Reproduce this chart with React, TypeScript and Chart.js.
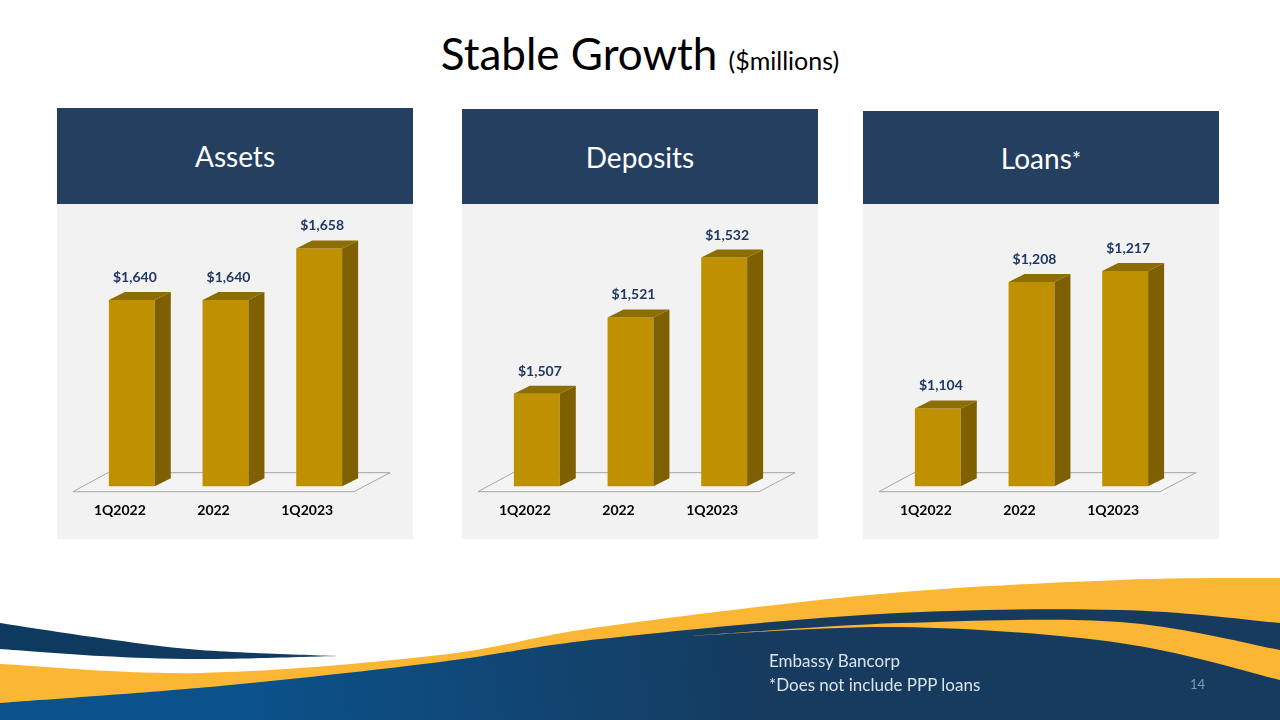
import React, { useEffect, useRef } from "react";
import { Chart, registerables } from "chart.js";

Chart.register(...registerables);

// ---- data -------------------------------------------------------------
const categories = ["1Q2022", "2022", "1Q2023"];
const assetValues = [1640, 1640, 1658];
const depositValues = [1507, 1521, 1532];
const loanValues = [1104, 1208, 1217];

// value window shown on each (hidden) value axis
const assetRange = [1575, 1670];
const depositRange = [1490, 1540];
const loanRange = [1040, 1264];

// ---- styling ------------------------------------------------------------
const FONT = "Lato, 'Open Sans', 'DejaVu Sans', sans-serif";
const FRONT = "#BF9000";
const SIDE = "#7F6000";
const TOP = "#8D6D00";
const LABEL = "#1F3864";
const HEADER = "#243F60";
const PANEL = "#F2F2F2";
const DX = 16;
const DY = -8;

// Draws the floor, the bar depth faces and the value labels
const bar3dPlugin = {
  id: "bar3d",
  beforeDatasetsDraw(chart: any) {
    const { ctx, chartArea } = chart;
    const b = chartArea.bottom;
    ctx.save();
    ctx.beginPath();
    ctx.moveTo(chartArea.left - 12, b + 5.5);
    ctx.lineTo(chartArea.right - 12, b + 5.5);
    ctx.lineTo(chartArea.right + 24, b - 13.5);
    ctx.lineTo(chartArea.left + 23, b - 13.5);
    ctx.closePath();
    ctx.fillStyle = "#F4F4F4";
    ctx.fill();
    ctx.strokeStyle = "#A6A6A6";
    ctx.lineWidth = 1;
    ctx.stroke();
    ctx.restore();
  },
  afterDatasetsDraw(chart: any) {
    const { ctx, chartArea } = chart;
    const meta = chart.getDatasetMeta(0);
    const values = chart.data.datasets[0].data as number[];
    ctx.save();
    meta.data.forEach((bar: any, i: number) => {
      const p = bar.getProps(["x", "y", "base", "width"], true);
      const x = p.x;
      const y = p.y;
      const width = p.width;
      const base = Math.min(p.base, chartArea.bottom);
      const l = x - width / 2;
      const r = x + width / 2;
      // right side face
      ctx.beginPath();
      ctx.moveTo(r, y);
      ctx.lineTo(r + DX, y + DY);
      ctx.lineTo(r + DX, base + DY);
      ctx.lineTo(r, base);
      ctx.closePath();
      ctx.fillStyle = SIDE;
      ctx.fill();
      // top face
      ctx.beginPath();
      ctx.moveTo(l, y);
      ctx.lineTo(r, y);
      ctx.lineTo(r + DX, y + DY);
      ctx.lineTo(l + DX, y + DY);
      ctx.closePath();
      ctx.fillStyle = TOP;
      ctx.fill();
      // value label
      ctx.font = `bold 14px ${FONT}`;
      ctx.fillStyle = LABEL;
      ctx.textAlign = "center";
      ctx.textBaseline = "alphabetic";
      ctx.fillText("$" + values[i].toLocaleString("en-US"), x + 3, y + DY - 10);
    });
    ctx.restore();
  },
};

const PANEL_W = 355;
const PANEL_H = 334;

function BarPanel(props: {
  title: string;
  star?: boolean;
  values: number[];
  range: number[];
  left: number;
  headerTop: number;
}) {
  const ref = useRef<HTMLCanvasElement | null>(null);

  useEffect(() => {
    if (!ref.current) return;
    const chart = new Chart(ref.current, {
      type: "bar",
      data: {
        labels: categories,
        datasets: [
          {
            data: props.values,
            backgroundColor: FRONT,
            borderWidth: 0,
            categoryPercentage: 1,
            barPercentage: 0.49,
          },
        ],
      },
      options: {
        animation: false,
        responsive: false,
        devicePixelRatio: 1,
        layout: { padding: { left: 28, right: 46, top: 10, bottom: 3 } },
        plugins: {
          legend: { display: false },
          tooltip: { enabled: false },
          title: { display: false },
        },
        scales: {
          x: {
            grid: { display: false, drawTicks: false },
            border: { display: false },
            ticks: {
              color: "#000000",
              padding: 16,
              labelOffset: -12,
              font: { family: FONT, size: 14, weight: "bold" },
            },
          },
          y: {
            display: false,
            min: props.range[0],
            max: props.range[1],
          },
        },
      },
      plugins: [bar3dPlugin],
    });
    return () => chart.destroy();
  }, []);

  return (
    <>
      <div
        style={{
          position: "absolute",
          left: props.left,
          top: props.headerTop,
          width: PANEL_W + 1,
          height: 204 - props.headerTop,
          background: HEADER,
          color: "#FFFFFF",
          fontFamily: FONT,
          fontSize: 28,
          display: "flex",
          alignItems: "center",
          justifyContent: "center",
        }}
      >
        <span>
          {props.title}
          {props.star ? <span style={{ fontSize: 22, verticalAlign: "2px" }}>*</span> : null}
        </span>
      </div>
      <div
        style={{
          position: "absolute",
          left: props.left,
          top: 204,
          width: PANEL_W + 1,
          height: PANEL_H + 1,
          background: PANEL,
        }}
      >
        <canvas ref={ref} width={PANEL_W} height={PANEL_H} style={{ display: "block" }} />
      </div>
    </>
  );
}

// Catmull-Rom through points -> cubic bezier path segments
function curve(points: number[][], move = true) {
  let d = move ? `M${points[0][0]} ${points[0][1]}` : `L${points[0][0]} ${points[0][1]}`;
  for (let i = 0; i < points.length - 1; i++) {
    const p0 = points[i - 1] || points[i];
    const p1 = points[i];
    const p2 = points[i + 1];
    const p3 = points[i + 2] || p2;
    const c1x = p1[0] + (p2[0] - p0[0]) / 6;
    const c1y = p1[1] + (p2[1] - p0[1]) / 6;
    const c2x = p2[0] - (p3[0] - p1[0]) / 6;
    const c2y = p2[1] - (p3[1] - p1[1]) / 6;
    d += ` C${c1x} ${c1y} ${c2x} ${c2y} ${p2[0]} ${p2[1]}`;
  }
  return d;
}

const yellowTop = [[0, 664], [200, 673], [440, 655], [600, 627], [880, 594], [1120, 580], [1280, 578]];
const navyTop = [[0, 703], [220, 686], [440, 662], [600, 639], [880, 614], [1120, 610], [1280, 623]];
const stripeTop = [[690, 636], [900, 623], [1120, 622], [1280, 650]];
const stripeBottom = [[1280, 680], [1120, 643], [900, 627], [690, 636]];
const swooshTop = [[0, 623], [100, 638], [200, 650], [340, 656]];
const swooshBottom = [[340, 656], [200, 659], [100, 656], [0, 649]];

function Wave() {
  return (
    <svg
      width={1280}
      height={720}
      viewBox="0 0 1280 720"
      style={{ position: "absolute", left: 0, top: 0, pointerEvents: "none" }}
    >
      <defs>
        <linearGradient id="navyFill" gradientUnits="userSpaceOnUse" x1="250" y1="720" x2="760" y2="640">
          <stop offset="0" stopColor="#0B528B" />
          <stop offset="1" stopColor="#163B5E" />
        </linearGradient>
        <linearGradient id="swooshFill" gradientUnits="userSpaceOnUse" x1="0" y1="630" x2="340" y2="656">
          <stop offset="0" stopColor="#0E3A60" />
          <stop offset="0.85" stopColor="#123A60" />
          <stop offset="1" stopColor="#4A6484" />
        </linearGradient>
      </defs>
      <path d={curve(yellowTop) + " L1280 720 L0 720 Z"} fill="#FBB634" />
      <path d={curve(navyTop) + " L1280 720 L0 720 Z"} fill="url(#navyFill)" />
      <path d={curve(stripeTop) + " " + curve(stripeBottom, false) + " Z"} fill="#FBB634" />
      <path d={curve(swooshTop) + " " + curve(swooshBottom, false) + " Z"} fill="url(#swooshFill)" />
    </svg>
  );
}

export default function App() {
  return (
    <div
      style={{
        position: "absolute",
        left: 0,
        top: 0,
        width: 1280,
        height: 720,
        overflow: "hidden",
        background: "#FFFFFF",
        fontFamily: FONT,
      }}
    >
      <div
        style={{
          position: "absolute",
          left: 0,
          top: 30,
          width: 1280,
          textAlign: "center",
          fontSize: 44,
          lineHeight: "46px",
          color: "#000000",
          whiteSpace: "nowrap",
        }}
      >
        Stable Growth <span style={{ fontSize: 25 }}>($millions)</span>
      </div>

      <BarPanel title="Assets" values={assetValues} range={assetRange} left={57} headerTop={108} />
      <BarPanel title="Deposits" values={depositValues} range={depositRange} left={462} headerTop={109} />
      <BarPanel title="Loans" star values={loanValues} range={loanRange} left={863} headerTop={111} />

      <Wave />

      <div
        style={{
          position: "absolute",
          left: 769,
          top: 649,
          fontSize: 17,
          lineHeight: "24px",
          color: "#DCE3EC",
          whiteSpace: "nowrap",
        }}
      >
        <div>Embassy Bancorp</div>
        <div>*Does not include PPP loans</div>
      </div>
      <div
        style={{
          position: "absolute",
          left: 1190,
          top: 676,
          fontSize: 13,
          lineHeight: "16px",
          color: "#8497B0",
        }}
      >
        14
      </div>
    </div>
  );
}
